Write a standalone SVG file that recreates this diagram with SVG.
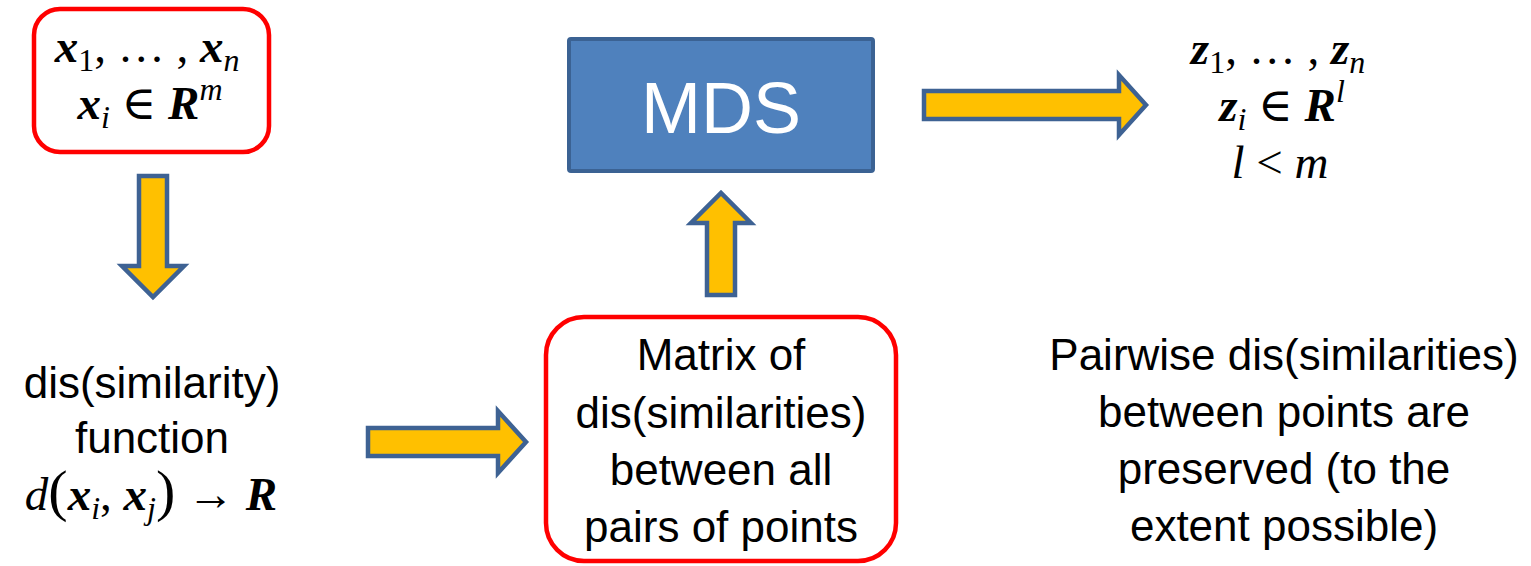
<svg xmlns="http://www.w3.org/2000/svg" width="1531" height="566" viewBox="0 0 1531 566">
<style>
.box{fill:#fff;stroke:#ff0000;stroke-width:4.5}
.arr{fill:#ffc000;stroke:#3e6293;stroke-width:4.5;stroke-linejoin:miter}
.t{font-family:"Liberation Sans",Arial,sans-serif;font-size:44px;fill:#000;text-anchor:middle}
.m{font-family:"Liberation Serif","DejaVu Serif",serif;font-size:47px;fill:#000;text-anchor:middle}
.bi{font-weight:bold;font-style:italic}
.i{font-style:italic}
.sub{font-size:32px}
</style>
<g id="connectors">
<path class="arr" d="M139,176 L167,176 L167,266 L184,266 L153,297 L122,266 L139,266 Z"/>
<path class="arr" d="M368,428 L498,428 L498,411 L526,442 L498,473 L498,456 L368,456 Z"/>
<path class="arr" d="M707,295 L735,295 L735,223 L751,223 L721,193 L691,223 L707,223 Z"/>
<path class="arr" d="M924,91 L1119,91 L1119,75 L1146,105 L1119,135 L1119,119 L924,119 Z"/>
</g>
<g id="input">
<rect class="box" x="34" y="9" width="235" height="143" rx="26"/>
<text class="m" x="147" y="62"><tspan class="bi">x</tspan><tspan class="sub" dy="9">1</tspan><tspan dy="-9">, … , </tspan><tspan class="bi">x</tspan><tspan class="sub i" dy="9">n</tspan></text>
<text class="m" x="150" y="119"><tspan class="bi">x</tspan><tspan class="sub i" dy="9">i</tspan><tspan dy="-9"> ∈ </tspan><tspan class="bi">R</tspan><tspan class="sub i" dy="-19">m</tspan></text>
</g>
<g id="mds">
<rect x="569" y="39" width="304" height="132" rx="2" fill="#4f81bd" stroke="#3b6293" stroke-width="4"/>
<text x="721" y="133" font-family="Liberation Sans,Arial,sans-serif" font-size="72" fill="#fff" text-anchor="middle">MDS</text>
</g>
<g id="output">
<text class="m" x="1278" y="64"><tspan class="bi">z</tspan><tspan class="sub" dy="9">1</tspan><tspan dy="-9">, … , </tspan><tspan class="bi">z</tspan><tspan class="sub i" dy="9">n</tspan></text>
<text class="m" x="1282" y="121"><tspan class="bi">z</tspan><tspan class="sub i" dy="9">i</tspan><tspan dy="-9"> ∈ </tspan><tspan class="bi">R</tspan><tspan class="sub i" dy="-19">l</tspan></text>
<text class="m" x="1280" y="178" font-size="50"><tspan class="i">l</tspan> &lt; <tspan class="i">m</tspan></text>
</g>
<g id="function">
<text class="t" x="152" y="398">dis(similarity)</text>
<text class="t" x="152" y="453">function</text>
<text class="m" x="151" y="510"><tspan class="i">d</tspan><tspan font-size="58">(</tspan><tspan class="bi">x</tspan><tspan class="sub i" dy="9">i</tspan><tspan dy="-9">, </tspan><tspan class="bi">x</tspan><tspan class="sub i" dy="9">j</tspan><tspan dy="-9" font-size="58">)</tspan><tspan> → </tspan><tspan class="bi">R</tspan></text>
</g>
<g id="matrix">
<rect class="box" x="546" y="317" width="350" height="244" rx="38"/>
<text class="t" x="721" y="370">Matrix of</text>
<text class="t" x="721" y="428">dis(similarities)</text>
<text class="t" x="721" y="485">between all</text>
<text class="t" x="721" y="542">pairs of points</text>
</g>
<g id="note">
<text class="t" x="1284" y="370">Pairwise dis(similarities)</text>
<text class="t" x="1284" y="427">between points are</text>
<text class="t" x="1284" y="484">preserved (to the</text>
<text class="t" x="1284" y="541">extent possible)</text>
</g>
</svg>
